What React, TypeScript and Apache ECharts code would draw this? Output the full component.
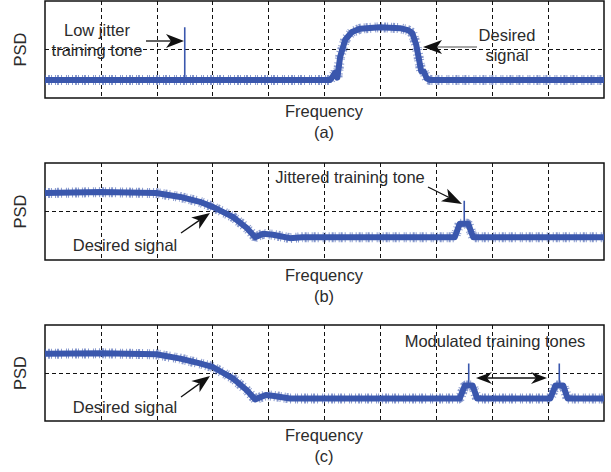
import React, { useEffect, useRef } from "react";
import * as echarts from "echarts";

const spectrumA: [number, number][] = [
  [0, 0.37], [51, 0.37], [51.5, 0.45], [51.9, 0.52], [52.3, 0.42], [52.8, 0.85], [53.7, 1.2],
  [54.9, 1.36], [56.4, 1.43], [59.9, 1.46], [63.5, 1.44], [64.9, 1.4], [65.7, 1.34], [66.4, 1.1],
  [66.9, 0.8], [67.3, 0.55], [67.8, 0.54], [68.3, 0.4], [68.9, 0.37], [100, 0.37],
];
const toneA: [number, number][] = [[25, 0.37], [25, 1.46]];

const spectrumB: [number, number][] = [
  [0, 1.38], [10, 1.4], [19.9, 1.38], [24.2, 1.3], [27.7, 1.2], [30.1, 1.09], [33.6, 0.89],
  [36.1, 0.66], [37.6, 0.47], [39.0, 0.54], [40.8, 0.52], [43.8, 0.45], [46, 0.47],
  [73.3, 0.47], [74.2, 0.75], [75.7, 0.75], [76.6, 0.47], [100, 0.47],
];
const toneB: [number, number][] = [[75, 0.75], [75, 1.22]];

const spectrumC: [number, number][] = [
  [0, 1.4], [10, 1.41], [19.9, 1.39], [24.2, 1.3], [27.7, 1.2], [30.1, 1.12], [33.6, 0.89],
  [36.1, 0.64], [37.6, 0.45], [39.5, 0.54], [41, 0.52], [43.8, 0.47], [74.2, 0.47],
  [75.1, 0.74], [76.5, 0.74], [77.3, 0.47], [90.4, 0.47], [91.3, 0.74], [92.7, 0.74],
  [93.5, 0.47], [100, 0.47],
];
const tonesC: [number, number][][] = [
  [[75.8, 0.74], [75.8, 1.2]],
  [[92.0, 0.74], [92.0, 1.2]],
];

const panelLabels = ["(a)", "(b)", "(c)"];
const xAxisTitle = "Frequency";
const yAxisTitle = "PSD";

const BLUE = "#3a57ad";
const TEXT = "#2b2b2b";
const FONT = "Liberation Sans";

type P = [number, number];

function head(tail: P, tip: P, L: number, W: number, notch: number) {
  const dx = tip[0] - tail[0];
  const dy = tip[1] - tail[1];
  const len = Math.hypot(dx, dy);
  const ux = dx / len, uy = dy / len;
  const px = -uy, py = ux;
  const bx = tip[0] - ux * L, by = tip[1] - uy * L;
  const nx = tip[0] - ux * (L - notch), ny = tip[1] - uy * (L - notch);
  return {
    poly: [tip, [bx + px * W, by + py * W], [nx, ny], [bx - px * W, by - py * W]] as P[],
    notch: [nx, ny] as P,
  };
}

function arrow(tail: P, tip: P, lineColor = "#111", L = 18, W = 7, double = false): any[] {
  const h1 = head(tail, tip, L, W, 5);
  const els: any[] = [];
  let start: P = tail;
  if (double) {
    const h2 = head(tip, tail, L, W, 5);
    start = h2.notch;
    els.push({ type: "polygon", shape: { points: h2.poly }, style: { fill: "#111" }, z: 100 });
  }
  els.push({
    type: "line",
    shape: { x1: start[0], y1: start[1], x2: h1.notch[0], y2: h1.notch[1] },
    style: { stroke: lineColor, lineWidth: 1.3 },
    z: 100,
  });
  els.push({ type: "polygon", shape: { points: h1.poly }, style: { fill: "#111" }, z: 100 });
  return els;
}

function txt(text: string, x: number, y: number, rotation = 0): any {
  return {
    type: "text",
    x,
    y,
    rotation,
    z: 100,
    style: {
      text,
      fill: TEXT,
      fontSize: 16.5,
      fontFamily: FONT,
      textAlign: "center",
      textVerticalAlign: "middle",
    },
  };
}

const grids = [
  { left: 45, top: 1, width: 559, height: 97 },
  { left: 45, top: 163, width: 559, height: 97 },
  { left: 45, top: 325, width: 559, height: 96 },
];

export default function App() {
  const ref = useRef<HTMLDivElement>(null);
  useEffect(() => {
    document.body.style.margin = "0";
    if (!ref.current) return;
    const chart = echarts.init(ref.current, undefined, { renderer: "svg" });

    const splitLine = {
      show: true,
      showMinLine: false,
      showMaxLine: false,
      lineStyle: { color: "#111", width: 1, type: [4, 3] as any },
    };

    const xAxes = grids.map((_, i) => ({
      type: "value",
      gridIndex: i,
      min: 0,
      max: 100,
      interval: 10,
      axisLine: { show: false },
      axisTick: { show: false },
      axisLabel: { show: false },
      splitLine,
    }));
    const yAxes = grids.map((_, i) => ({
      type: "value",
      gridIndex: i,
      min: 0,
      max: 2,
      interval: 1,
      axisLine: { show: false },
      axisTick: { show: false },
      axisLabel: { show: false },
      splitLine,
    }));

    const band = (data: P[], i: number) => [
      {
        type: "line",
        xAxisIndex: i,
        yAxisIndex: i,
        data,
        symbol: "none",
        silent: true,
        lineStyle: {
          color: BLUE,
          width: 10,
          type: [1, 2, 2, 1, 1, 3, 1, 1, 2, 2, 1, 4, 1, 1, 1, 3] as any,
          opacity: 0.6,
        },
        z: 2,
      },
      {
        type: "line",
        xAxisIndex: i,
        yAxisIndex: i,
        data,
        symbol: "none",
        silent: true,
        lineStyle: { color: BLUE, width: 6, join: "round" as any },
        z: 3,
      },
    ];
    const spike = (data: P[], i: number) => ({
      type: "line",
      xAxisIndex: i,
      yAxisIndex: i,
      data,
      symbol: "none",
      silent: true,
      lineStyle: { color: BLUE, width: 1.6 },
      z: 4,
    });

    const series: any[] = [
      ...band(spectrumA, 0),
      spike(toneA, 0),
      ...band(spectrumB, 1),
      spike(toneB, 1),
      ...band(spectrumC, 2),
      ...tonesC.map((t) => spike(t, 2)),
    ];

    const capY = [
      [111, 132],
      [275, 296],
      [435, 456],
    ];
    const graphic: any[] = [];
    grids.forEach((g, i) => {
      graphic.push(txt(yAxisTitle, 20, g.top + g.height / 2, Math.PI / 2));
      graphic.push(txt(xAxisTitle, 324, capY[i][0]));
      graphic.push(txt(panelLabels[i], 324, capY[i][1]));
    });
    // panel (a)
    graphic.push(txt("Low jitter", 97, 30));
    graphic.push(txt("training tone", 97, 50));
    graphic.push(...arrow([146, 41], [184, 41], "#111", 18, 7));
    graphic.push(txt("Desired", 507, 35));
    graphic.push(txt("signal", 507, 55));
    graphic.push(...arrow([477, 47], [423, 47], "#888", 19, 7));
    // panel (b)
    graphic.push(txt("Jittered training tone", 350, 177));
    graphic.push(...arrow([428, 187], [462, 204], "#111", 20, 7));
    graphic.push(txt("Desired signal", 125, 245));
    graphic.push(...arrow([181, 233], [210, 213], "#111", 18, 7));
    // panel (c)
    graphic.push(txt("Modulated training tones", 495, 341));
    graphic.push(...arrow([476, 378], [547, 378], "#111", 16, 6, true));
    graphic.push(txt("Desired signal", 125, 407));
    graphic.push(...arrow([181, 397], [210, 376], "#111", 18, 7));

    chart.setOption({
      animation: false,
      backgroundColor: "#ffffff",
      grid: grids.map((g) => ({
        ...g,
        show: true,
        borderColor: "#111",
        borderWidth: 1.5,
        backgroundColor: "transparent",
        containLabel: false,
      })),
      xAxis: xAxes,
      yAxis: yAxes,
      series,
      graphic,
    });
    return () => chart.dispose();
  }, []);
  return <div ref={ref} style={{ width: 611, height: 472 }} />;
}
